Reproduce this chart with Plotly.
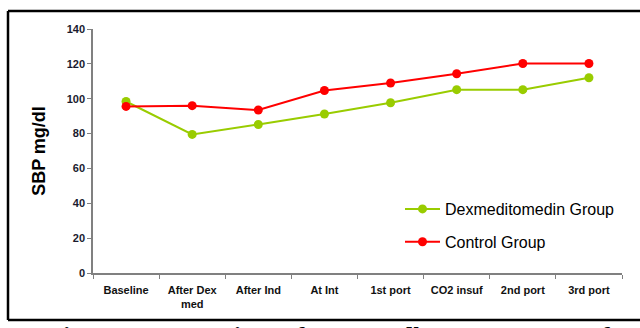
import plotly.graph_objects as go

categories = ["Baseline", "After Dex<br>med", "After Ind", "At Int", "1st port",
              "CO2 insuf", "2nd port", "3rd port"]
dex_values = [98.4, 79.5, 85.2, 91.2, 97.7, 105.2, 105.2, 112.0]
control_values = [95.6, 96.0, 93.5, 104.7, 109.0, 114.3, 120.2, 120.2]
y_ticks = [0, 20, 40, 60, 80, 100, 120, 140]

W, H = 640, 328
ML, MR, MT, MB = 93, 18, 29, 55
PW, PH = W - ML - MR, H - MT - MB


def px_x(p):
    return (p - ML) / PW


def px_y(p):
    return (H - MB - p) / PH


fig = go.Figure()
fig.add_trace(go.Scatter(
    x=categories, y=dex_values, mode="lines+markers", name="Dexmeditomedin Group",
    line=dict(color="#99CC00", width=2), marker=dict(color="#99CC00", size=9),
    legendgroup="a"))
fig.add_trace(go.Scatter(
    x=categories, y=control_values, mode="lines+markers", name="Control Group",
    line=dict(color="#FF0000", width=2), marker=dict(color="#FF0000", size=9),
    legendgroup="b"))

fig.update_layout(
    width=W, height=H,
    margin=dict(l=ML, r=MR, t=MT, b=MB),
    paper_bgcolor="white", plot_bgcolor="white",
    font=dict(family="Liberation Sans, Arial, sans-serif", color="#000000"),
    showlegend=True,
    legend=dict(x=px_x(400), y=px_y(192), xanchor="left", yanchor="top",
                font=dict(size=16, color="#000000"), bgcolor="rgba(0,0,0,0)",
                itemwidth=35, tracegroupgap=9),
    xaxis=dict(type="category", range=[-0.5, 7.5], tickson="boundaries",
               ticks="outside", ticklen=4, tickcolor="#808080",
               showline=True, linecolor="#808080", linewidth=1.5,
               showgrid=False, zeroline=False, ticklabelstandoff=6,
               tickfont=dict(size=11, color="#111111", weight="bold")),
    yaxis=dict(range=[0, 140], tickvals=y_ticks, ticks="outside", ticklen=4,
               tickcolor="#808080", showline=True, linecolor="#808080", linewidth=1.5,
               showgrid=False, zeroline=False,
               tickfont=dict(size=11, color="#1a1a2e", weight="bold"),
               title=dict(text="SBP mg/dl", standoff=16,
                          font=dict(size=18, color="#000000", weight="bold"))),
    shapes=[
        dict(type="line", xref="paper", yref="paper", x0=px_x(8), x1=px_x(8),
             y0=px_y(11), y1=px_y(320), line=dict(color="black", width=2.5)),
        dict(type="line", xref="paper", yref="paper", x0=px_x(8), x1=px_x(645),
             y0=px_y(11), y1=px_y(11), line=dict(color="black", width=2.5)),
        dict(type="line", xref="paper", yref="paper", x0=px_x(8), x1=px_x(645),
             y0=px_y(320), y1=px_y(320), line=dict(color="black", width=2.5)),
    ],
    annotations=[
        dict(text="<b><i>Figure 2: Comparison of SBP mg/dl In Two Groups of</i></b>",
             xref="paper", yref="paper", x=px_x(42), y=px_y(320.5), xanchor="left",
             yanchor="top", showarrow=False,
             font=dict(family="Liberation Serif, serif", size=25, color="black")),
    ],
)

fig.write_html(
    "out.html",
    config={"displayModeBar": False},
    post_script=("document.body.style.margin='0';"
                 "document.body.style.overflow='hidden';"
                 "document.documentElement.style.overflow='hidden';"),
)
